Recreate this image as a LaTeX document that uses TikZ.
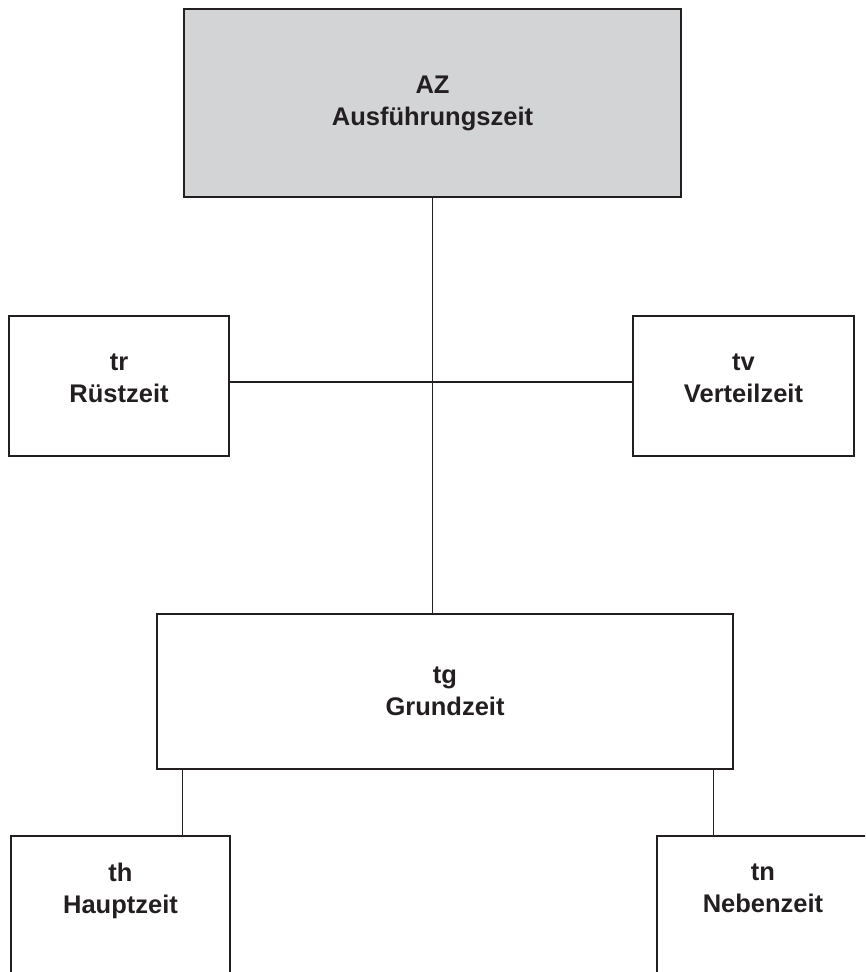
\documentclass[tikz,border=0pt]{standalone}
\usepackage{fontspec}
\setmainfont{Liberation Sans}
\usetikzlibrary{positioning, calc}
\definecolor{boxgray}{RGB}{211,212,214}
\definecolor{ink}{RGB}{35,31,32}

\begin{document}
\begin{tikzpicture}[
      x=1pt, y=-1pt,
      box/.style={rectangle, draw=ink, line width=1.2pt, inner sep=0pt,
                  minimum width=220pt, minimum height=140pt, text=ink,
                  font=\fontsize{25.5}{32}\selectfont\bfseries, align=center},
      link/.style={draw=ink, line width=1.2pt}
    ]
    \clip (0,0) rectangle (865,972);
    \node[box, fill=boxgray, minimum width=497pt, minimum height=188pt] (az) at (432.5,103)
      {AZ\\Ausführungszeit};
    \node[box, text depth=16pt] (tr) at (119,386) {tr\\Rüstzeit};
    \node[box, minimum width=221pt, text depth=16pt] (tv) at (743.5,386) {tv\\Verteilzeit};
    \node[box, minimum width=576pt, minimum height=155pt] (tg) at (445,691.5)
      {tg\\Grundzeit};
    \node[box, minimum width=219pt, text depth=35pt] (th) at (120.5,906) {th\\Hauptzeit};
    \node[box, minimum width=212pt, text depth=35pt] (tn) at (763,906) {tn\\Nebenzeit};
    % connectors
    \coordinate (hub) at (432.5,382);
    \coordinate (thtop) at ([xshift=26pt]tg.south west);
    \coordinate (tntop) at ([xshift=-20pt]tg.south east);
    \draw[link] (az.south) -- (az.south |- tg.north);
    \draw[link] (tr.east |- hub) -- (tv.west |- hub);
    \draw[link] (thtop) -- (thtop |- th.north);
    \draw[link] (tntop) -- (tntop |- tn.north);
  \end{tikzpicture}
\end{document}
